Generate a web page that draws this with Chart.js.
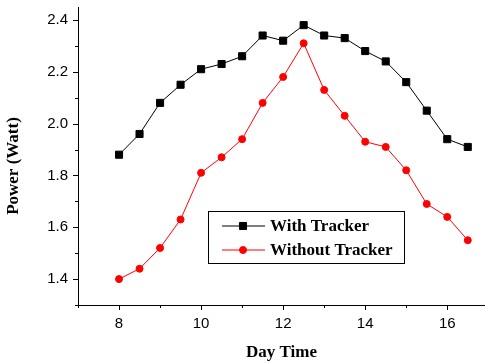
<!DOCTYPE html>
<html>
<head>
<meta charset="utf-8">
<script src="https://cdn.jsdelivr.net/npm/chart.js@4.4.1/dist/chart.umd.min.js"></script>
<style>
html,body{margin:0;padding:0;background:#fff;}
#wrap{width:485px;height:363px;position:relative;}
</style>
</head>
<body>
<div id="wrap"><canvas id="c" width="485" height="363"></canvas></div>
<script>
const dayTime = [8, 8.5, 9, 9.5, 10, 10.5, 11, 11.5, 12, 12.5, 13, 13.5, 14, 14.5, 15, 15.5, 16, 16.5];
const withTracker = [1.88, 1.96, 2.08, 2.15, 2.21, 2.23, 2.26, 2.34, 2.32, 2.38, 2.34, 2.33, 2.28, 2.24, 2.16, 2.05, 1.94, 1.91];
const withoutTracker = [1.40, 1.44, 1.52, 1.63, 1.81, 1.87, 1.94, 2.08, 2.18, 2.31, 2.13, 2.03, 1.93, 1.91, 1.82, 1.69, 1.64, 1.55];
const seriesNames = ['With Tracker', 'Without Tracker'];
const xTitle = 'Day Time';
const yTitle = 'Power (Watt)';

const tickFont = {family: 'Liberation Sans', size: 15};
const titleFont = {family: 'Liberation Serif', size: 17, weight: 'bold'};

function isMult(v, step){ const q = v/step; return Math.abs(q - Math.round(q)) < 1e-6; }

function zeroPad(s){ s.paddingLeft = 0; s.paddingRight = 0; s.paddingTop = 0; s.paddingBottom = 0; }

const axisDecor = {
  id: 'axisDecor',
  afterDraw(chart){
    const ctx = chart.ctx;
    const xs = chart.scales.x, ys = chart.scales.y;
    const ca = chart.chartArea;
    ctx.save();
    ctx.strokeStyle = '#000';
    ctx.lineWidth = 1;
    ys.ticks.forEach(t => {
      if (!isMult(t.value, 0.1)) return;
      const major = isMult(t.value, 0.2);
      const p = Math.round(ys.getPixelForValue(t.value)) + 0.5;
      ctx.beginPath();
      ctx.moveTo(ca.left, p);
      ctx.lineTo(ca.left - (major ? 5 : 3), p);
      ctx.stroke();
    });
    xs.ticks.forEach(t => {
      if (!isMult(t.value, 1)) return;
      const major = isMult(t.value, 2);
      const p = Math.round(xs.getPixelForValue(t.value)) + 0.5;
      ctx.beginPath();
      ctx.moveTo(p, ca.bottom);
      ctx.lineTo(p, ca.bottom + (major ? 5 : 3));
      ctx.stroke();
    });
    ctx.fillStyle = '#000';
    ctx.font = 'bold 17px "Liberation Serif"';
    ctx.textAlign = 'center';
    ctx.textBaseline = 'middle';
    ctx.translate(14, (ca.top + ca.bottom) / 2 + 10);
    ctx.rotate(-Math.PI / 2);
    ctx.fillText(yTitle, 0, 0);
    ctx.restore();

    // legend box
    ctx.save();
    const bx = ca.left + 130, by = ca.top + 204;
    const bw = 196, bh = 52;
    ctx.fillStyle = '#fff';
    ctx.fillRect(bx, by, bw, bh);
    ctx.strokeStyle = '#000';
    ctx.lineWidth = 1;
    ctx.strokeRect(Math.round(bx) + 0.5, Math.round(by) + 0.5, bw, bh);
    chart.data.datasets.forEach((ds, i) => {
      const cy = by + 15 + i * 24;
      const lx0 = bx + 14, lx1 = bx + 57, mx = bx + 35;
      ctx.strokeStyle = ds.borderColor;
      ctx.fillStyle = ds.backgroundColor;
      ctx.lineWidth = 1;
      ctx.beginPath();
      ctx.moveTo(lx0, cy); ctx.lineTo(lx1, cy); ctx.stroke();
      Chart.helpers.drawPoint(ctx, {pointStyle: ds.pointStyle, radius: ds.pointRadius, borderWidth: 1, rotation: 0}, mx, cy);
      ctx.fillStyle = '#000';
      ctx.font = 'bold 17px "Liberation Serif"';
      ctx.textAlign = 'left';
      ctx.textBaseline = 'middle';
      ctx.fillText(ds.label, bx + 62, cy + 1);
    });
    ctx.restore();
  }
};

new Chart(document.getElementById('c'), {
  type: 'line',
  data: {
    datasets: [
      {label: seriesNames[0], data: dayTime.map((x, i) => ({x, y: withTracker[i]})),
       borderColor: '#000', backgroundColor: '#000', pointStyle: 'rect', pointRadius: 5,
       pointBorderWidth: 1, borderWidth: 1, tension: 0},
      {label: seriesNames[1], data: dayTime.map((x, i) => ({x, y: withoutTracker[i]})),
       borderColor: '#ff0000', backgroundColor: '#ff0000', pointStyle: 'circle', pointRadius: 3.5,
       pointBorderWidth: 1, borderWidth: 1, tension: 0}
    ]
  },
  options: {
    responsive: false,
    animation: false,
    devicePixelRatio: 1,
    layout: {autoPadding: false, padding: {top: 7, right: 0, bottom: 0, left: 0}},
    plugins: {legend: {display: false}, tooltip: {enabled: false}},
    scales: {
      x: {
        type: 'linear', min: 7, max: 16.92,
        afterFit(s){ s.height = 58; zeroPad(s); },
        grid: {display: true, drawOnChartArea: false, drawTicks: false},
        border: {display: true, color: '#000', width: 1},
        ticks: {stepSize: 1, includeBounds: false, autoSkip: false, maxRotation: 0, padding: 10, color: '#000', font: tickFont,
          callback: v => (isMult(v, 2) ? String(Math.round(v)) : '')},
        title: {display: true, text: xTitle, color: '#000', font: titleFont, padding: {top: 0, bottom: 0}}
      },
      y: {
        type: 'linear', min: 1.3, max: 2.45,
        afterFit(s){ s.width = 78; zeroPad(s); },
        grid: {display: true, drawOnChartArea: false, drawTicks: false},
        border: {display: true, color: '#000', width: 1},
        ticks: {stepSize: 0.1, includeBounds: false, autoSkip: false, padding: 10, color: '#000', font: tickFont,
          callback: v => (isMult(v, 0.2) ? v.toFixed(1) : '')}
      }
    }
  },
  plugins: [axisDecor]
});
</script>
</body>
</html>
